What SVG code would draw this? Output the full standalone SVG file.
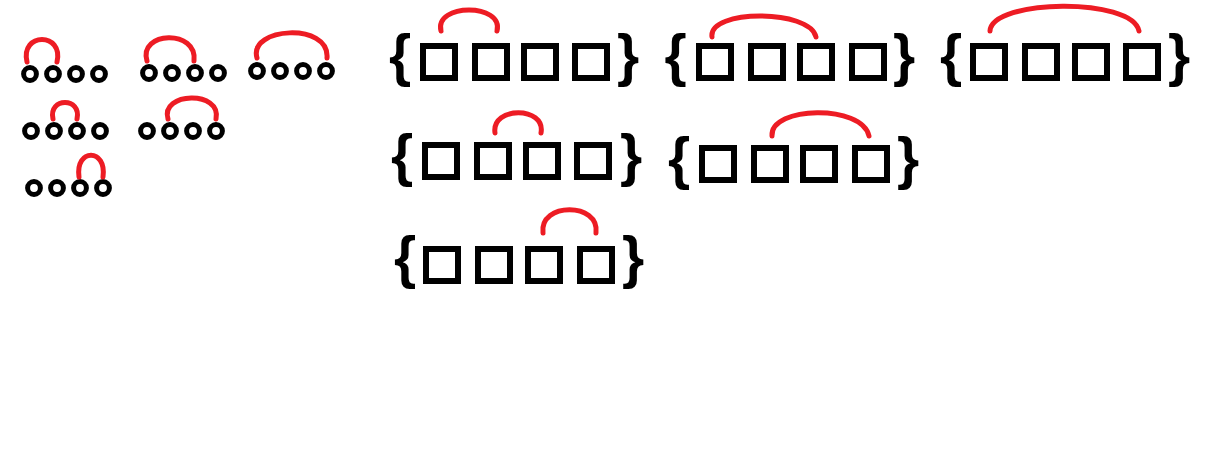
<svg xmlns="http://www.w3.org/2000/svg" width="1206" height="454" viewBox="0 0 1206 454">
<style>
.bg{fill:#fff}
.ring{fill:none;stroke:#000;stroke-width:5}
.box{fill:none;stroke:#000;stroke-width:6}
.br{font-family:"Liberation Sans",Arial,sans-serif;font-weight:bold;font-size:57px;fill:#000;text-anchor:middle}
.arc{fill:none;stroke:#ED1C24;stroke-width:5;stroke-linecap:round}
</style>
<rect class="bg" width="1206" height="454"/>
<g id="circles1"><circle class="ring" cx="30" cy="74" r="6.4"/><circle class="ring" cx="53" cy="74" r="6.4"/><circle class="ring" cx="76" cy="74" r="6.4"/><circle class="ring" cx="99" cy="74" r="6.4"/></g>
<g id="circles2"><circle class="ring" cx="149" cy="73" r="6.4"/><circle class="ring" cx="172" cy="73" r="6.4"/><circle class="ring" cx="195" cy="73" r="6.4"/><circle class="ring" cx="218" cy="73" r="6.4"/></g>
<g id="circles3"><circle class="ring" cx="257" cy="71" r="6.4"/><circle class="ring" cx="280" cy="71" r="6.4"/><circle class="ring" cx="303" cy="71" r="6.4"/><circle class="ring" cx="326" cy="71" r="6.4"/></g>
<g id="circles4"><circle class="ring" cx="31" cy="131" r="6.4"/><circle class="ring" cx="54" cy="131" r="6.4"/><circle class="ring" cx="77" cy="131" r="6.4"/><circle class="ring" cx="100" cy="131" r="6.4"/></g>
<g id="circles5"><circle class="ring" cx="147" cy="131" r="6.4"/><circle class="ring" cx="170" cy="131" r="6.4"/><circle class="ring" cx="193" cy="131" r="6.4"/><circle class="ring" cx="216" cy="131" r="6.4"/></g>
<g id="circles6"><circle class="ring" cx="34" cy="188" r="6.4"/><circle class="ring" cx="57" cy="188" r="6.4"/><circle class="ring" cx="80" cy="188" r="6.4"/><circle class="ring" cx="103" cy="188" r="6.4"/></g>
<g id="set1"><text class="br" x="400" y="74.5">{</text><rect class="box" x="423" y="46" width="32" height="32"/><rect class="box" x="475" y="46" width="32" height="32"/><rect class="box" x="524" y="46" width="32" height="32"/><rect class="box" x="575" y="46" width="32" height="32"/><text class="br" x="628" y="74.5">}</text></g>
<g id="set2"><text class="br" x="675.5" y="75">{</text><rect class="box" x="699" y="46" width="32" height="32"/><rect class="box" x="751" y="46" width="32" height="32"/><rect class="box" x="800" y="46" width="32" height="32"/><rect class="box" x="852" y="46" width="32" height="32"/><text class="br" x="904" y="75">}</text></g>
<g id="set3"><text class="br" x="951" y="74.5">{</text><rect class="box" x="973" y="46" width="32" height="32"/><rect class="box" x="1025" y="46" width="32" height="32"/><rect class="box" x="1075" y="46" width="32" height="32"/><rect class="box" x="1126" y="46" width="32" height="32"/><text class="br" x="1179" y="74.5">}</text></g>
<g id="set4"><text class="br" x="402" y="174.5">{</text><rect class="box" x="425" y="145" width="32" height="32"/><rect class="box" x="477" y="145" width="32" height="32"/><rect class="box" x="526" y="145" width="32" height="32"/><rect class="box" x="577" y="145" width="32" height="32"/><text class="br" x="631" y="174.5">}</text></g>
<g id="set5"><text class="br" x="679" y="177.5">{</text><rect class="box" x="702" y="148" width="32" height="32"/><rect class="box" x="754" y="148" width="32" height="32"/><rect class="box" x="803" y="148" width="32" height="32"/><rect class="box" x="855" y="148" width="32" height="32"/><text class="br" x="908" y="177.5">}</text></g>
<g id="set6"><text class="br" x="405" y="276.5">{</text><rect class="box" x="426" y="249" width="32" height="32"/><rect class="box" x="478" y="249" width="32" height="32"/><rect class="box" x="528" y="249" width="32" height="32"/><rect class="box" x="580" y="249" width="32" height="32"/><text class="br" x="633" y="276.5">}</text></g>
<g id="connectors">
<path class="arc" d="M27,62 C20,32 64,32 57,62"/>
<path class="arc" d="M147,61 C138,31 198,29 194,61"/>
<path class="arc" d="M257,58 C248,27 330,22 327,58"/>
<path class="arc" d="M53,119 C48,97 82,97 77,119"/>
<path class="arc" d="M168,119 C160,92 222,90 216,119"/>
<path class="arc" d="M79,177 C75,148 107,148 103,177"/>
<path class="arc" d="M441,31 C434,3 504,3 497,31"/>
<path class="arc" d="M712,37 C708,9 810,9 816,37"/>
<path class="arc" d="M990,31 C992,-1 1132,-3 1139,31"/>
<path class="arc" d="M495,133 C491,106 546,106 541,133"/>
<path class="arc" d="M772,136 C770,106 862,104 869,136"/>
<path class="arc" d="M543,233 C539,202 600,202 596,233"/>
</g>
</svg>
